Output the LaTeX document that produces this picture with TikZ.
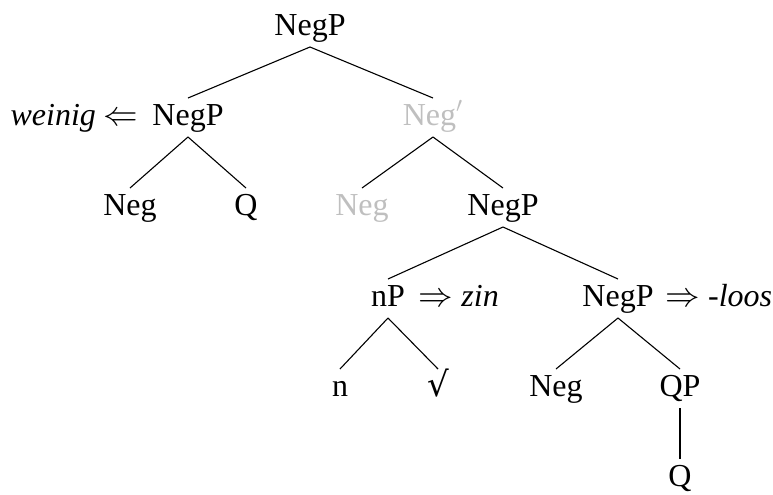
\documentclass[tikz,border=0pt]{standalone}
\usepackage{fontspec}
\setmainfont{Liberation Serif}
\newfontfamily\symfont{DejaVu Sans}
\usetikzlibrary{positioning}
\tikzset{
tnode/.style={inner sep=0pt, outer sep=0pt, text height=13.5pt, text depth=6pt, anchor=base, font=\fontsize{16}{18}\selectfont},
ghost/.style={tnode, text=black!25},
side/.style={inner sep=0pt, outer sep=0pt, text height=13.5pt, text depth=6pt, font=\fontsize{16}{18}\selectfont},
branch/.style={line width=0.55pt}}

\begin{document}
\begin{tikzpicture}[x=0.5pt,y=-0.5pt]
\useasboundingbox (0,0) rectangle (773,494);
\node (root) [tnode] at (310,35) {NegP};
\node (wnegp) [tnode] at (188,125) {NegP};
\node (weinig) [side, left=7pt of wnegp] {\textit{weinig} $\Leftarrow$};
\node (negbar) [ghost] at (433,125) {Neg$'$};
\node (negA) [tnode] at (130,215) {Neg};
\node (qA) [tnode] at (246,215) {Q};
\node (neggray) [ghost] at (362,215) {Neg};
\node (negpB) [tnode] at (503,215) {NegP};
\node (np) [tnode] at (388,306) {nP};
\node (zin) [side, right=7pt of np] {$\Rightarrow$ \textit{zin}};
\node (negpC) [tnode] at (618,306) {NegP};
\node (loos) [side, right=6pt of negpC] {$\Rightarrow$ \textit{-loos}};
\node (nA) [tnode] at (340,396) {n};
\node (rt) [tnode] at (438,396) {{\symfont\fontsize{17}{19}\selectfont √}};
\node (negD) [tnode] at (556,396) {Neg};
\node (qp) [tnode] at (680,396) {QP};
\node (qB) [tnode] at (680,486) {Q};

\draw [branch] (root.south) -- (wnegp.north);
\draw [branch] (root.south) -- (negbar.north);
\draw [branch] (wnegp.south) -- (negA.north);
\draw [branch] (wnegp.south) -- (qA.north);
\draw [branch] (negbar.south) -- (neggray.north);
\draw [branch] (negbar.south) -- (negpB.north);
\draw [branch] (negpB.south) -- (np.north);
\draw [branch] (negpB.south) -- (negpC.north);
\draw [branch] (np.south) -- (nA.north);
\draw [branch] (np.south) -- (rt.north);
\draw [branch] (negpC.south) -- (negD.north);
\draw [branch] (negpC.south) -- (qp.north);
\draw [branch] (qp.south) -- (qB.north);
\end{tikzpicture}
\end{document}
